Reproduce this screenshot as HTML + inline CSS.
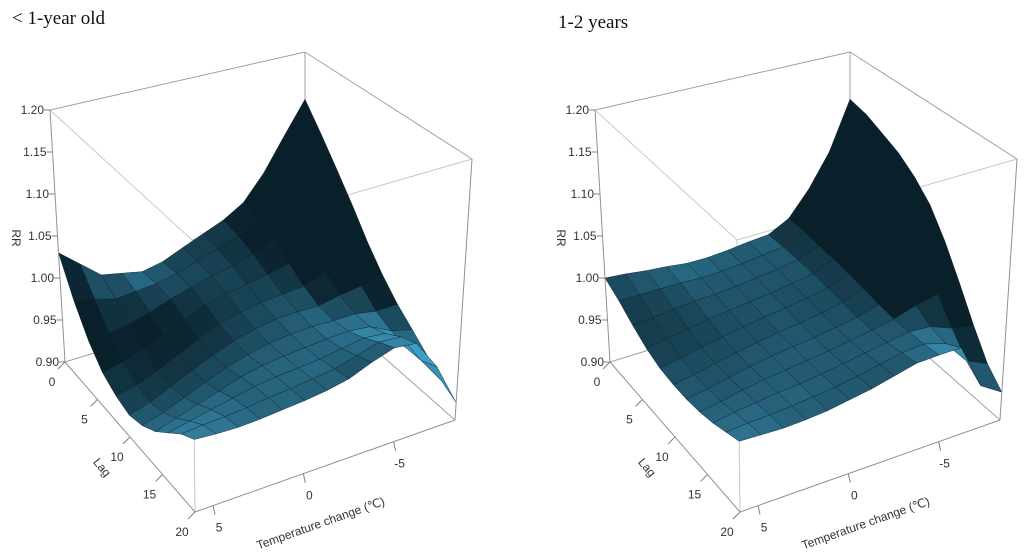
<!DOCTYPE html>
<html>
<head>
<meta charset="utf-8">
<style>
html,body{margin:0;padding:0;background:#fff;}
body{width:1024px;height:555px;overflow:hidden;position:relative;}
svg{position:absolute;left:0;top:0;}
.ttl{font-family:"Liberation Serif",serif;font-size:19px;fill:#111;}
.lbl{font-family:"Liberation Sans",sans-serif;font-size:12px;fill:#333;}
</style>
</head>
<body>
<svg id="chart" width="1024" height="555" viewBox="0 0 1024 555">
  <text class="ttl" x="12" y="24">&lt; 1-year old</text>
  <text class="ttl" x="558" y="28">1-2 years</text>
</svg>
<script>
// Data: temperature change (°C) grid, lag (days) grid, RR values [temp][lag]
const tempValues = [6, 4.8, 3.6, 2.4, 1.2, 0, -1.2, -2.4, -3.6, -4.8, -6, -7.2, -8.4];
const lagValues = [0, 2, 4, 6, 8, 10, 12, 14, 16, 18, 20];
const rrUnder1 = [
  [1.030,0.990,0.960,0.940,0.930,0.925,0.930,0.940,0.955,0.970,0.980],
  [1.010,0.985,0.962,0.945,0.935,0.932,0.937,0.947,0.960,0.972,0.978],
  [0.990,0.978,0.965,0.952,0.944,0.942,0.946,0.955,0.965,0.973,0.977],
  [0.985,0.980,0.972,0.962,0.955,0.953,0.956,0.962,0.970,0.975,0.978],
  [0.980,0.982,0.980,0.973,0.966,0.963,0.965,0.970,0.975,0.978,0.980],
  [0.985,0.987,0.987,0.982,0.976,0.972,0.972,0.975,0.978,0.980,0.982],
  [0.995,0.995,0.993,0.988,0.982,0.978,0.977,0.978,0.980,0.983,0.985],
  [1.005,1.003,0.998,0.992,0.986,0.982,0.980,0.980,0.982,0.986,0.990],
  [1.015,1.012,1.005,0.996,0.988,0.983,0.981,0.982,0.986,0.993,1.000],
  [1.030,1.025,1.015,1.002,0.990,0.982,0.980,0.983,0.990,1.000,1.008],
  [1.060,1.050,1.035,1.017,1.000,0.987,0.980,0.980,0.987,0.998,1.005],
  [1.100,1.082,1.060,1.035,1.010,0.990,0.975,0.967,0.962,0.962,0.970],
  [1.140,1.110,1.080,1.050,1.020,0.995,0.975,0.960,0.945,0.930,0.920]
];
const rrAge1to2 = [
  [1.000,0.990,0.978,0.968,0.962,0.960,0.960,0.962,0.966,0.972,0.978],
  [0.998,0.990,0.980,0.972,0.966,0.964,0.964,0.966,0.970,0.974,0.977],
  [0.995,0.990,0.983,0.976,0.971,0.969,0.969,0.971,0.973,0.975,0.976],
  [0.993,0.990,0.985,0.980,0.976,0.974,0.974,0.975,0.976,0.977,0.977],
  [0.990,0.989,0.986,0.983,0.980,0.978,0.978,0.978,0.978,0.979,0.979],
  [0.990,0.990,0.988,0.986,0.984,0.982,0.981,0.981,0.981,0.982,0.983],
  [0.992,0.992,0.991,0.989,0.987,0.985,0.984,0.984,0.985,0.986,0.987],
  [0.995,0.995,0.994,0.993,0.991,0.989,0.988,0.988,0.989,0.991,0.993],
  [0.997,0.998,0.998,0.997,0.996,0.994,0.992,0.992,0.993,0.996,0.999],
  [1.010,1.010,1.008,1.007,1.005,1.002,0.999,0.997,0.997,0.998,1.000],
  [1.040,1.045,1.047,1.045,1.040,1.030,1.018,1.005,0.995,0.990,1.000],
  [1.080,1.085,1.085,1.080,1.070,1.055,1.035,1.010,0.985,0.962,0.948],
  [1.140,1.135,1.125,1.115,1.100,1.080,1.050,1.015,0.980,0.950,0.932]
];
const rrTicks = [0.90, 0.95, 1.00, 1.05, 1.10, 1.15, 1.20];
const lagTicks = [0, 5, 10, 15, 20];
const tempTicks = [5, 0, -5];

const T_HI = 6, T_LO = -8.4, L_MAX = 20, R_MIN = 0.9, R_MAX = 1.2;
const NS = 'http://www.w3.org/2000/svg';
const svg = document.getElementById('chart');

function mk(tag, attrs, parent) {
  const e = document.createElementNS(NS, tag);
  for (const k in attrs) e.setAttribute(k, attrs[k]);
  (parent || svg).appendChild(e);
  return e;
}
function lerp(a, b, t) { return [a[0] + (b[0] - a[0]) * t, a[1] + (b[1] - a[1]) * t]; }
function bil(c00, c01, c10, c11, u, v) { return lerp(lerp(c00, c01, v), lerp(c10, c11, v), u); }

function makeProj(dx) {
  const B = [[65+dx,362],[195+dx,512],[305+dx,288],[455+dx,420]];
  const T = [[50+dx,110],[192+dx,240],[305+dx,52],[472+dx,159]];
  return function (temp, lag, rr) {
    const u = (T_HI - temp) / (T_HI - T_LO), v = lag / L_MAX, w = (rr - R_MIN) / (R_MAX - R_MIN);
    return lerp(bil(B[0],B[1],B[2],B[3],u,v), bil(T[0],T[1],T[2],T[3],u,v), w);
  };
}

function line(g, a, b, name, col) {
  const l = mk('line', {x1:a[0], y1:a[1], x2:b[0], y2:b[1], stroke: col || '#a0a0a0', 'stroke-width': 1}, g);
  
  
}
function text(g, x, y, str, anchor, name, rot) {
  const t = mk('text', {x: x, y: y, class: 'lbl', 'text-anchor': anchor}, g);
  if (rot) t.setAttribute('transform', 'rotate(' + rot + ' ' + x + ' ' + y + ')');
  t.textContent = str;
  
  
}

function drawPanel(dx, data, key) {
  const P = makeProj(dx);
  const g = mk('g', {});
  
  
  const c = (t, l, r) => P(t, l, r);
  const b00 = c(T_HI,0,R_MIN), b01 = c(T_HI,L_MAX,R_MIN), b10 = c(T_LO,0,R_MIN), b11 = c(T_LO,L_MAX,R_MIN);
  const t00 = c(T_HI,0,R_MAX), t01 = c(T_HI,L_MAX,R_MAX), t10 = c(T_LO,0,R_MAX), t11 = c(T_LO,L_MAX,R_MAX);
  line(g, t00, t10, 'box-edge'); line(g, t10, t11, 'box-edge'); line(g, t10, b10, 'box-edge');
  line(g, b00, b10, 'box-edge'); line(g, b10, b11, 'box-edge');
  line(g, t00, t01, 'box-edge', '#c8c8c8'); line(g, t01, t11, 'box-edge', '#c8c8c8'); line(g, t01, b01, 'box-edge', '#c8c8c8');
  const nT = tempValues.length, nL = lagValues.length;
  const cells = [];
  for (let i = 0; i < nT - 1; i++) for (let j = 0; j < nL - 1; j++) cells.push([i, j, j + (nT - 2 - i)]);
  cells.sort((a, b) => a[2] - b[2]);
  const dark = [6, 24, 32], light = [72, 178, 222];
  const Lx = 0.6, Ly = -0.6, Lz = 0.5, Ln = Math.hypot(Lx, Ly, Lz);
  const sg = mk('g', {}, g);
  
  
  for (const [i, j] of cells) {
    const z00 = data[i][j], z01 = data[i][j+1], z10 = data[i+1][j], z11 = data[i+1][j+1];
    const du = (T_HI - T_LO), dv = L_MAX;
    const uStep = (tempValues[i] - tempValues[i+1]) / du, vStep = (lagValues[j+1] - lagValues[j]) / dv;
    const gu = ((z10 + z11) - (z00 + z01)) / 2 / (R_MAX - R_MIN) / uStep;
    const gv = ((z01 + z11) - (z00 + z10)) / 2 / (R_MAX - R_MIN) / vStep;
    const n = Math.hypot(gu, gv, 1);
    let I = (-gu * Lx - gv * Ly + Lz) / (n * Ln);
    I = Math.max(0.05, Math.min(1, I));
    const col = 'rgb(' + dark.map((d, k) => Math.round(d + (light[k] - d) * I)).join(',') + ')';
    const p = [P(tempValues[i], lagValues[j], z00), P(tempValues[i], lagValues[j+1], z01),
               P(tempValues[i+1], lagValues[j+1], z11), P(tempValues[i+1], lagValues[j], z10)];
    const poly = mk('polygon', {points: p.map(q => q[0].toFixed(1) + ',' + q[1].toFixed(1)).join(' '),
      fill: col, stroke: '#0b1d25', 'stroke-width': 0.5, 'stroke-opacity': 0.8, 'stroke-linejoin': 'round'}, sg);
    
    
  }
  line(g, t00, b00, 'rr-axis-line', '#909090');
  line(g, b00, b01, 'lag-axis-line', '#909090');
  line(g, b01, b11, 'temperature-axis-line', '#909090');
  line(g, t11, b11, 'box-edge', '#909090');
  for (const r of rrTicks) {
    const p = P(T_HI, 0, r);
    line(g, p, [p[0] - 6, p[1]], 'rr-tick', '#808080');
    text(g, p[0] - 6, p[1] + 4, r.toFixed(2), 'end', 'rr-tick-label');
  }
  for (const l of lagTicks) {
    const p = P(T_HI, l, R_MIN);
    line(g, p, [p[0] - 7, p[1] + 7], 'lag-tick', '#808080');
    text(g, p[0] - 13, p[1] + 24, String(l), 'middle', 'lag-tick-label');
  }
  for (const t of tempTicks) {
    const p = P(t, L_MAX, R_MIN);
    line(g, p, [p[0] + 2, p[1] + 9], 'temperature-tick', '#808080');
    text(g, p[0] + 6, p[1] + 26, String(t), 'middle', 'temperature-tick-label');
  }
  text(g, 99 + dx, 470, 'Lag', 'middle', 'lag-axis-title', 50);
  text(g, 322 + dx, 527, 'Temperature change (\u2103)', 'middle', 'temperature-axis-title', -19.5);
  text(g, 12 + dx, 238, 'RR', 'middle', 'rr-axis-title', 90);
}

drawPanel(0, rrUnder1, 'under-1-year');
drawPanel(545, rrAge1to2, '1-2-years');
</script>
</body>
</html>
